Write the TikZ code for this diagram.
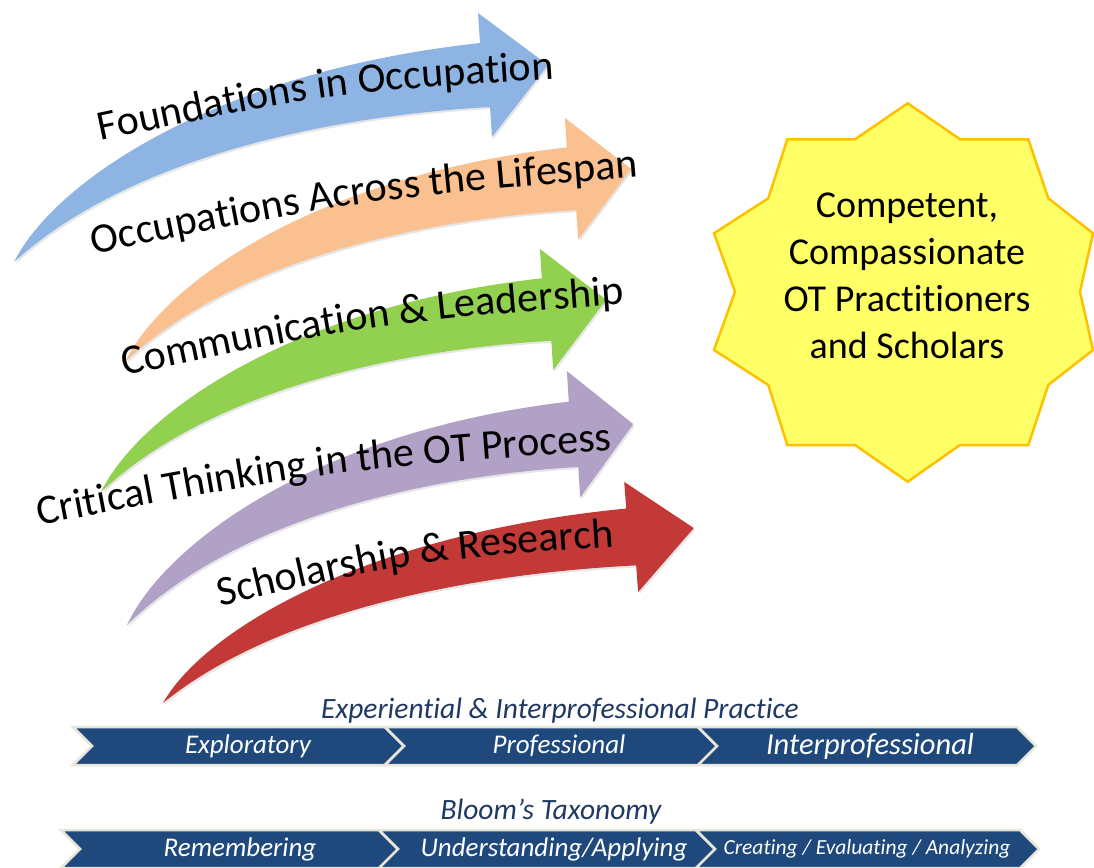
\documentclass[tikz,border=0pt]{standalone}
\usepackage{fontspec}
\setmainfont{Carlito}[Ligatures=NoCommon]
\newfontfamily\arrfont{Carlito}
\usetikzlibrary{decorations.text,shadows}
\definecolor{cblue}{RGB}{141,180,226}
\definecolor{corange}{RGB}{250,192,144}
\definecolor{cgreen}{RGB}{146,208,80}
\definecolor{cpurple}{RGB}{178,161,199}
\definecolor{cred}{RGB}{195,57,55}
\definecolor{chev}{RGB}{31,73,125}
\definecolor{chevline}{RGB}{232,230,218}
\definecolor{navy}{RGB}{31,56,100}
\definecolor{staryellow}{RGB}{255,255,102}
\definecolor{starline}{RGB}{255,192,0}
\newcommand{\curvedarrow}[5]{%
  \fill[#1, arrowshadow, shift={(#2,#3)}, xscale=#4, yscale=#5]
    (0,0) .. controls (40,-80) and (200,-190) .. (466,-219)
    -- (464,-249) -- (534,-197) -- (478,-125) -- (476,-155)
    .. controls (300,-145) and (110,-100) .. cycle;}
\newcommand{\chevronshape}[4]{%
  \filldraw[chevbox] (#1,#3) -- (#2,#3) -- ({#2+19},{(#3+#4)/2}) -- (#2,#4)
    -- (#1,#4) -- ({#1+19},{(#3+#4)/2}) -- cycle;}
\tikzset{
  arrowshadow/.style={drop shadow={shadow xshift=1.5pt, shadow yshift=-2pt, opacity=0.2}},
  chevbox/.style={fill=chev, draw=chevline, line width=2.5pt, line join=miter},
  chevtext/.style={text=white, font=\itshape\fontsize{27}{30}\selectfont, inner sep=0pt},
  titletext/.style={text=navy, font=\itshape\fontsize{29.5}{33}\selectfont, inner sep=0pt},
  arrowlabel/.style={decorate, decoration={text along path, text align=center,
     text={|\arrfont\fontsize{42}{42}\selectfont|#1}}}
}
\begin{document}
\begin{tikzpicture}[x=1pt,y=-1pt]
\useasboundingbox (0,0) rectangle (1094,867);
% curved arrows
\curvedarrow{cblue}{14}{262}{1}{1}
\curvedarrow{corange}{125}{362}{0.948}{0.98}
\curvedarrow{cgreen}{101}{492}{0.946}{0.976}
\curvedarrow{cpurple}{127}{625}{0.948}{1.02}
\curvedarrow{cred}{163}{703}{0.994}{0.888}
% arrow labels
\path[arrowlabel={Foundations in Occupation}] (70.3,147.1) .. controls (324.9,93.2) .. (584.7,77);
\path[arrowlabel={Occupations Across the Lifespan}] (63.3,260.2) .. controls (363.3,198.7) .. (668.7,174.8);
\path[arrowlabel={Communication {\&} Leadership}] (94.3,382.3) .. controls (371.8,323.2) .. (654.7,301.7);
\path[arrowlabel={Critical Thinking in the OT Process}] (10.3,530.9) .. controls (323.5,470.7) .. (641.7,448.1);
\path[arrowlabel={Scholarship {\&} Research}] (190.3,613.5) .. controls (414.6,560.2) .. (644.7,544.5);
% star
\filldraw[fill=staryellow, draw=starline, line width=2.5pt, line join=miter]
 (907.7,103.3) -- (960,139.3) -- (1028.3,139.3) -- (1048.3,198.3) -- (1093,233.3)
 -- (1080,291.7) -- (1093,350) -- (1048.3,385) -- (1028.3,445) -- (960,445)
 -- (907.7,481.7) -- (855,445) -- (787.3,445) -- (768.3,385) -- (714,350)
 -- (735,291.7) -- (714,233.3) -- (768.3,198.3) -- (787.3,139.3) -- (855,139.3) -- cycle;
\node[align=center, font=\fontsize{38}{47}\selectfont, inner sep=0pt] (goal) at (907,276)
 {Competent,\\Compassionate\\OT Practitioners\\and Scholars};
% experiential row
\node[titletext] (exptitle) at (560,711) {Experiential \& Interprofessional Practice};
\chevronshape{73}{385}{727}{765}
\chevronshape{385}{698}{727}{765}
\chevronshape{698}{1017}{727}{765}
\node[chevtext] (explo) at (248,746) {Exploratory};
\node[chevtext] (prof) at (559,746) {Professional};
\node[chevtext, font=\itshape\fontsize{30.5}{33}\selectfont] (inter) at (870,746) {Interprofessional};
% bloom row
\node[titletext] (bloom) at (551,812) {Bloom’s Taxonomy};
\chevronshape{61}{379}{830}{868}
\chevronshape{379}{696}{830}{868}
\chevronshape{696}{1020}{830}{868}
\node[chevtext] (remem) at (240,849) {Remembering};
\node[chevtext] (under) at (554,849) {Understanding/Applying};
\node[chevtext, font=\itshape\fontsize{21.5}{24}\selectfont] (create) at (867,849) {Creating / Evaluating / Analyzing};
\end{tikzpicture}
\end{document}
